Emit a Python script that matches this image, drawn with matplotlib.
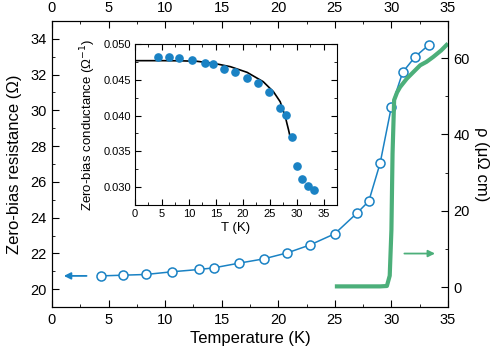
import matplotlib
matplotlib.use("Agg")
import matplotlib.pyplot as plt
from matplotlib.ticker import MultipleLocator

plt.rcParams['font.family'] = ['Liberation Sans', 'DejaVu Sans']

# Main data: zero-bias resistance vs temperature
T_R = [4.3, 6.3, 8.3, 10.6, 13.0, 14.3, 16.5, 18.7, 20.8, 22.8, 25.0, 27.0, 28.0, 29.0, 30.0, 31.0, 32.1, 33.3]
R = [20.74, 20.78, 20.82, 20.97, 21.10, 21.19, 21.45, 21.69, 22.03, 22.47, 23.10, 24.28, 24.92, 27.04, 30.21, 32.14, 33.00, 33.66]

# Resistivity (right axis)
T_rho = [25.0, 27.0, 29.0, 29.6, 29.85, 30.0, 30.1, 30.24, 30.5, 30.77, 31.36, 32.0, 32.54, 33.1, 33.7, 34.4, 35.0]
rho = [0.2, 0.2, 0.2, 0.3, 3.0, 15.0, 35.0, 49.0, 51.0, 52.4, 54.6, 56.5, 58.1, 59.0, 60.3, 62.0, 63.8]

# Inset: zero-bias conductance
T_G = [4.3, 6.3, 8.2, 10.6, 13.0, 14.4, 16.5, 18.6, 20.8, 22.8, 24.9, 27.0, 28.0, 29.1, 30.0, 31.0, 32.1, 33.3]
G = [0.0482, 0.0482, 0.0480, 0.0477, 0.0474, 0.0472, 0.0465, 0.0461, 0.0453, 0.0445, 0.0433, 0.0411, 0.0401, 0.0370, 0.0330, 0.0311, 0.0302, 0.0296]

# Inset fit curve
T_fit = [0.3, 5.3, 8.5, 11.5, 14.6, 17.7, 20.8, 23.8, 25.7, 26.95, 27.9, 28.2, 28.5, 28.8]
G_fit = [0.04767, 0.04767, 0.04765, 0.04758, 0.0473, 0.04683, 0.04604, 0.04473, 0.04333, 0.04193, 0.03983, 0.0389, 0.0380, 0.0370]

blue = '#1a82c4'
green = '#4caf7a'

fig = plt.figure(figsize=(4.91, 3.48), dpi=100)
ax = fig.add_axes([0.1059, 0.1178, 0.8065, 0.8219])
ax.plot(T_R, R, '-o', color=blue, lw=1.1, ms=6.5, mfc='white', mec=blue, mew=1.1, zorder=3)
ax.set_xlim(0, 35)
ax.set_ylim(19, 35)
ax.xaxis.set_major_locator(MultipleLocator(5))
ax.xaxis.set_minor_locator(MultipleLocator(2.5))
ax.yaxis.set_major_locator(MultipleLocator(2))
ax.yaxis.set_minor_locator(MultipleLocator(1))
ax.tick_params(which='both', direction='in', top=True, labeltop=True, labelsize=10.5, pad=4)
ax.tick_params(which='major', length=5)
ax.tick_params(which='minor', length=2.5)
ax.set_xlabel('Temperature (K)', fontsize=12, labelpad=3)
ax.set_ylabel('Zero-bias resistance (Ω)', fontsize=12, labelpad=6)
ax.annotate('', xy=(0.8, 20.74), xytext=(3.3, 20.74),
            arrowprops=dict(arrowstyle='-|>', color=blue, lw=1.3, mutation_scale=10))

ax2 = ax.twinx()
ax2.plot(T_rho, rho, '-', color=green, lw=3.0, solid_capstyle='butt', zorder=2)
ax2.set_ylim(-5.2, 69.7)
ax2.yaxis.set_major_locator(MultipleLocator(20))
ax2.yaxis.set_minor_locator(MultipleLocator(10))
ax2.tick_params(which='both', direction='in', labelsize=10.5, pad=4)
ax2.tick_params(which='major', length=5)
ax2.tick_params(which='minor', length=2.5)
ax2.set_ylabel('ρ (μΩ cm)', fontsize=12, rotation=270, labelpad=14)
ax2.annotate('', xy=(34.1, 8.8), xytext=(30.9, 8.8),
             arrowprops=dict(arrowstyle='-|>', color=green, lw=1.3, mutation_scale=10))

# Inset
axi = fig.add_axes([0.275, 0.4109, 0.4114, 0.4627])
axi.plot(T_G, G, 'o', color=blue, ms=5.2, mec=blue, zorder=3)
axi.plot(T_fit, G_fit, '-', color='black', lw=1.2, zorder=2)
axi.set_xlim(0, 37.5)
axi.set_ylim(0.0275, 0.050)
axi.xaxis.set_major_locator(MultipleLocator(5))
axi.xaxis.set_minor_locator(MultipleLocator(2.5))
axi.yaxis.set_major_locator(MultipleLocator(0.005))
axi.yaxis.set_minor_locator(MultipleLocator(0.0025))
axi.yaxis.set_major_formatter(matplotlib.ticker.FormatStrFormatter('%.3f'))
axi.tick_params(which='both', direction='in', top=True, right=True, labelsize=8, pad=3)
axi.tick_params(which='major', length=4)
axi.tick_params(which='minor', length=2)
axi.set_xlabel('T (K)', fontsize=9.5, labelpad=2)
axi.set_ylabel('Zero-bias conductance (Ω$^{-1}$)', fontsize=9.5, labelpad=4)

fig.savefig('out.png', dpi=100)
